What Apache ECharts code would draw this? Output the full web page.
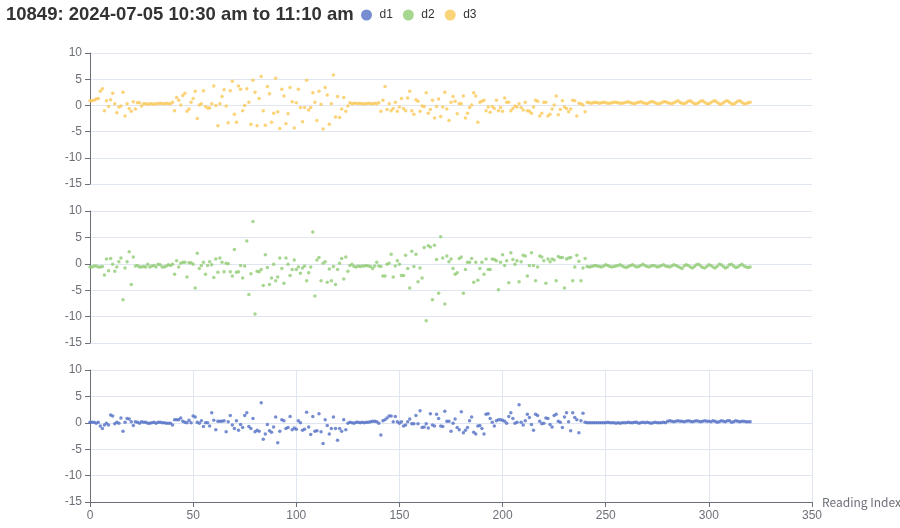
<!DOCTYPE html>
<html>
<head>
<meta charset="utf-8">
<title>10849 readings</title>
<script src="https://cdn.jsdelivr.net/npm/echarts@6/dist/echarts.min.js"></script>
<style>
  html, body { margin: 0; padding: 0; background: #fff; }
  #container { width: 900px; height: 528px; }
</style>
</head>
<body>
<div id="container"></div>
<script>
// readings, index 0..320
var d1 = [
  0.1,0.1,0.1,-0.1,0.1,-0.6,-1.1,-0.4,-0.1,-0.4,
  1.5,1.3,-0.2,0.1,-0.1,0.9,-1.6,0.1,0.8,0.7,
  0.2,-0.5,0.2,0.1,-0.1,0.2,0.1,0.1,-0.1,-0.1,
  0.0,0.1,-0.1,0.1,0.1,0.0,0.0,-0.1,-0.1,-0.1,
  -0.4,0.6,0.6,0.6,0.9,0.3,0.1,0.0,0.5,0.0,
  1.3,1.1,0.1,-0.1,0.4,-0.7,0.0,0.0,-0.6,1.9,
  0.5,-1.3,0.3,0.3,0.3,0.4,-1.7,0.2,1.4,-0.4,
  -1.1,0.4,-1.4,-0.3,-0.9,1.4,1.9,-0.7,-1.1,0.8,
  -1.7,-1.4,-1.6,3.8,-3.1,-2.1,-0.3,-1.5,-1.8,-0.8,
  1.1,-3.8,-1.6,0.6,0.4,-1.1,-0.9,1.2,-1.3,-1.0,
  -1.2,0.4,0.0,-1.4,-1.2,2.0,-0.8,-2.2,1.2,-1.6,
  -1.5,1.7,-1.7,-3.9,0.6,-0.5,-2.1,-1.1,1.1,-1.1,
  -3.3,-1.1,-1.6,0.6,-1.3,-0.1,0.1,0.0,-0.1,0.1,
  0.1,0.0,0.1,0.0,0.1,0.1,0.2,0.3,0.3,0.2,
  -0.1,-2.3,0.4,0.6,0.9,1.3,1.3,0.2,1.2,0.2,
  -0.1,0.2,-0.6,-0.4,0.2,0.7,-0.2,-0.2,1.4,-0.2,
  2.3,-0.9,-0.8,-0.2,-1.0,1.7,-0.4,-0.6,1.6,0.8,
  -0.6,-0.7,2.2,0.3,0.3,-1.6,-0.1,0.7,-0.9,-1.3,
  2.1,-1.9,-1.4,-0.9,0.4,1.1,-1.8,-2.1,-0.6,-0.5,
  -1.1,-2.1,1.6,1.7,0.8,0.1,-0.6,0.4,0.6,0.6,
  0.5,0.3,-0.1,1.2,1.9,0.8,-0.1,0.1,3.4,0.1,
  -0.4,0.4,1.6,1.0,-0.3,-1.4,1.6,1.4,0.3,-0.2,
  -0.1,0.9,0.8,-0.3,-0.8,1.4,1.6,0.3,0.1,-0.9,
  1.1,1.9,0.2,-1.5,1.9,1.0,0.6,-1.9,0.4,1.8,
  0.1,
  0.0,0.0,0.0,0.0,0.0,0.0,0.0,0.0,0.0,0.0,0.1,0.0,0.0,0.0,-0.1,0.0,-0.1,0.0,0.0,0.0,
  0.1,0.0,0.0,0.1,0.1,-0.1,0.0,0.1,0.0,0.1,0.0,-0.1,0.0,0.1,0.0,0.0,0.0,0.1,0.0,0.3,
  0.4,0.3,0.2,0.3,0.4,0.3,0.3,0.2,0.3,0.4,0.3,0.2,0.3,0.4,0.3,0.2,0.3,0.4,0.3,0.3,
  0.2,0.4,0.3,0.1,0.2,0.4,0.3,0.2,0.4,0.4,0.1,0.2,0.4,0.3,0.2,0.3,0.3,0.2,0.2,0.2
];
var d2 = [
  -0.6,-0.6,-0.4,-0.4,-0.6,-0.6,-0.5,-2.1,0.9,-1.3,
  1.0,-0.1,-1.4,-0.6,0.4,1.1,-6.8,-0.8,0.4,2.3,
  -3.9,1.3,-0.4,-0.3,-0.6,-0.6,-0.5,-0.6,-0.1,-0.6,
  -0.4,-0.3,-0.6,-0.1,-0.2,-0.6,-0.6,-0.4,-0.2,-0.3,
  -0.1,-2.0,0.6,-0.6,0.1,0.3,0.3,-2.5,0.2,0.2,
  -0.1,-4.6,2.0,-0.9,-0.3,0.3,-2.0,-0.3,0.4,-0.2,
  -2.6,0.9,-1.6,1.1,0.3,-1.5,0.1,0.0,-1.5,-2.3,
  2.7,-1.6,-1.5,-0.3,-2.7,-0.4,4.3,-5.8,-1.9,8.0,
  -9.5,-1.4,-1.5,-1.1,-4.1,1.7,-0.7,-3.9,-2.7,-0.1,
  -3.2,-2.5,1.1,-0.9,-3.7,1.1,-0.1,-2.2,-1.1,0.7,
  -1.1,-0.6,-1.8,-0.8,-0.4,-3.2,-1.7,-0.6,6.0,-6.1,
  0.7,1.2,-3.2,0.1,0.4,-3.5,-1.0,-3.2,-0.5,-3.9,
  -1.1,0.1,1.0,-2.9,1.3,-1.4,-0.3,-0.1,-0.5,-0.6,
  -0.4,-0.5,-0.4,-0.4,-0.3,-0.4,-0.5,-0.9,-0.4,0.3,
  -0.4,-0.5,-2.3,-2.3,-0.1,0.1,1.8,-2.5,-0.4,0.6,
  -0.1,-2.2,-2.2,1.6,-0.9,-4.6,2.4,-0.5,1.8,-3.4,
  -0.8,-2.7,3.1,-10.8,3.4,3.2,-6.8,3.5,0.8,-5.6,
  5.1,1.1,-7.6,1.5,0.4,0.9,-0.9,-2.0,-1.7,1.0,
  1.3,-5.6,-1.1,0.3,0.3,1.0,-3.5,0.3,-3.1,-0.9,
  0.3,-2.0,0.9,-1.1,-1.1,0.9,0.8,0.6,-4.9,0.3,
  1.7,-0.3,0.6,-3.6,2.1,0.8,-0.1,0.6,-3.4,0.4,
  1.6,1.5,-2.3,-0.3,2.1,-0.3,-3.2,-0.6,1.5,1.3,
  0.6,-3.7,0.9,0.4,0.9,0.7,-3.2,1.4,1.2,1.2,
  -4.6,0.9,1.1,1.2,-3.2,-0.6,1.6,0.5,-3.2,-0.8,
  1.0,
  -0.5,-0.6,-0.5,-0.4,-0.3,-0.4,-0.5,-0.6,-0.4,-0.2,-0.3,-0.5,-0.6,-0.5,-0.4,-0.3,-0.2,-0.4,-0.6,-0.7,
  -0.5,-0.3,-0.2,-0.4,-0.6,-0.5,-0.3,-0.1,-0.3,-0.5,-0.6,-0.4,-0.3,-0.4,-0.6,-0.5,-0.3,-0.2,-0.4,-0.5,
  -0.6,-0.4,-0.2,-0.3,-0.5,-0.7,-0.9,-0.4,-0.2,-0.3,-0.6,-0.8,-0.5,-0.2,-0.1,-0.4,-0.7,-0.8,-0.5,-0.2,
  -0.3,-0.6,-0.8,-0.5,-0.1,-0.2,-0.5,-0.8,-0.6,-0.2,-0.1,-0.4,-0.7,-0.6,-0.3,-0.1,-0.4,-0.6,-0.7,-0.6
];
var d3 = [
  0.9,0.9,1.0,1.2,1.3,2.7,3.2,-1.0,0.9,-0.2,
  1.1,2.3,0.3,-1.4,-0.3,-0.1,2.5,-2.0,0.3,-0.6,
  -1.1,0.7,-0.7,0.5,0.5,-0.1,0.3,0.3,0.2,0.3,
  0.3,0.2,0.3,0.3,0.4,0.3,0.3,0.4,0.3,0.3,
  0.6,-1.0,1.5,1.0,0.1,1.9,2.3,-1.1,-0.7,0.6,
  1.3,2.7,-2.5,0.1,0.3,2.8,-0.2,-0.5,-0.5,0.3,
  3.7,0.0,-3.9,0.3,1.7,3.0,-0.1,-3.3,2.8,4.6,
  -1.7,-3.2,3.7,3.1,-1.0,0.0,3.2,0.6,-3.6,4.8,
  2.5,-3.9,1.3,5.5,-1.0,-3.8,3.6,2.2,-3.2,-1.5,
  5.2,-1.2,-4.4,3.1,1.8,-3.5,-1.6,3.4,0.7,-4.3,
  0.5,3.1,-0.4,-3.1,-0.4,4.8,-0.9,-0.4,2.4,0.6,
  -2.9,2.7,0.2,-4.5,3.4,2.0,-3.6,0.3,5.8,-2.2,
  1.7,-2.3,-0.7,1.5,-1.1,-0.1,0.5,0.3,0.4,0.4,
  0.3,0.4,0.3,0.3,0.3,0.4,0.3,0.3,0.4,0.3,
  0.5,-1.1,1.0,3.6,-0.8,0.3,-1.0,-0.6,0.6,-1.1,
  -0.3,1.3,-0.6,-1.0,1.4,2.7,-1.0,-1.7,1.1,0.8,
  -1.1,-0.1,-0.2,2.4,-1.5,-0.8,1.0,-2.4,-0.2,1.2,
  -2.1,-0.3,2.5,-0.7,-2.9,0.6,1.7,0.8,-1.6,0.3,
  0.3,1.8,-2.4,-1.5,-0.4,0.1,2.4,1.8,-3.2,0.6,
  0.8,1.0,-1.0,-0.3,-1.3,-0.2,-0.6,1.0,-1.0,-0.4,
  -1.1,1.4,0.6,0.6,-1.0,-0.6,-0.1,-0.3,0.3,-0.4,
  -0.9,0.6,-1.0,-1.1,-1.5,-0.3,1.0,0.8,-2.0,-1.5,
  0.6,0.6,-2.0,-1.7,-0.7,0.1,1.8,-1.8,-0.8,0.9,
  -0.3,-0.6,-1.2,-0.7,1.0,0.9,-2.0,0.4,0.3,0.1,
  -1.2,
  0.6,0.5,0.4,0.5,0.6,0.5,0.4,0.5,0.6,0.5,0.4,0.4,0.5,0.6,0.6,0.5,0.4,0.4,0.5,0.6,
  0.7,0.5,0.4,0.3,0.5,0.6,0.7,0.5,0.4,0.3,0.5,0.7,0.7,0.5,0.3,0.3,0.5,0.7,0.7,0.5,
  0.4,0.3,0.5,0.7,0.9,0.6,0.4,0.3,0.5,0.8,0.9,0.6,0.3,0.3,0.5,0.8,0.9,0.6,0.3,0.3,
  0.5,0.8,0.9,0.6,0.3,0.2,0.5,0.8,0.9,0.6,0.3,0.2,0.5,0.8,0.9,0.6,0.3,0.3,0.5,0.6
];
var seriesNames = ['d1', 'd2', 'd3'];
var seriesColors = ['#5470c6', '#91cc75', '#fac858'];
var yTicks = { min: -15, max: 10, interval: 5 };

function pairs(arr) {
  return arr.map(function (v, i) { return [i, v]; });
}

var myChart = echarts.init(document.getElementById('container'));

var yAxisBase = function (idx) {
  return {
    type: 'value',
    gridIndex: idx,
    min: yTicks.min,
    max: yTicks.max,
    interval: yTicks.interval,
    axisLine: { show: true, lineStyle: { color: '#6E7079' } },
    axisTick: { show: true },
    axisLabel: { color: '#6E7079', fontSize: 12 },
    splitLine: { lineStyle: { color: '#E0E6F1' } }
  };
};

var option = {
  color: seriesColors,
  title: {
    text: '10849: 2024-07-05 10:30 am to 11:10 am',
    left: 1,
    top: 0,
    textStyle: { fontSize: 18.5, fontWeight: 'bold', color: '#333' }
  },
  legend: {
    data: seriesNames,
    left: 356,
    top: 4,
    icon: 'circle',
    itemWidth: 16,
    itemHeight: 11,
    itemGap: 10,
    textStyle: { color: '#333', fontSize: 12 }
  },
  grid: [
    { left: 90, right: 88, top: 53, height: 131, outerBoundsMode: 'none' },
    { left: 90, right: 88, top: 211, height: 132, outerBoundsMode: 'none' },
    { left: 90, right: 88, top: 370, height: 132, outerBoundsMode: 'none' }
  ],
  xAxis: [
    { type: 'value', gridIndex: 0, min: 0, max: 350, interval: 50, show: false },
    { type: 'value', gridIndex: 1, min: 0, max: 350, interval: 50, show: false },
    {
      type: 'value', gridIndex: 2, min: 0, max: 350, interval: 50,
      name: 'Reading Index',
      nameLocation: 'end',
      nameGap: 10,
      nameTextStyle: { color: '#6E7079', fontSize: 12, fontFamily: 'Noto Sans CJK SC' },
      axisLine: { show: true, onZero: false, lineStyle: { color: '#6E7079' } },
      axisTick: { show: true },
      axisLabel: { color: '#6E7079', fontSize: 12 },
      splitLine: { show: true, lineStyle: { color: '#E0E6F1' } }
    }
  ],
  yAxis: [yAxisBase(0), yAxisBase(1), yAxisBase(2)],
  series: [
    { name: 'd1', type: 'scatter', xAxisIndex: 2, yAxisIndex: 2, symbolSize: 3.5, data: pairs(d1) },
    { name: 'd2', type: 'scatter', xAxisIndex: 1, yAxisIndex: 1, symbolSize: 3.5, data: pairs(d2) },
    { name: 'd3', type: 'scatter', xAxisIndex: 0, yAxisIndex: 0, symbolSize: 3.5, data: pairs(d3) }
  ],
  animation: false
};

myChart.setOption(option, true);
</script>
</body>
</html>
